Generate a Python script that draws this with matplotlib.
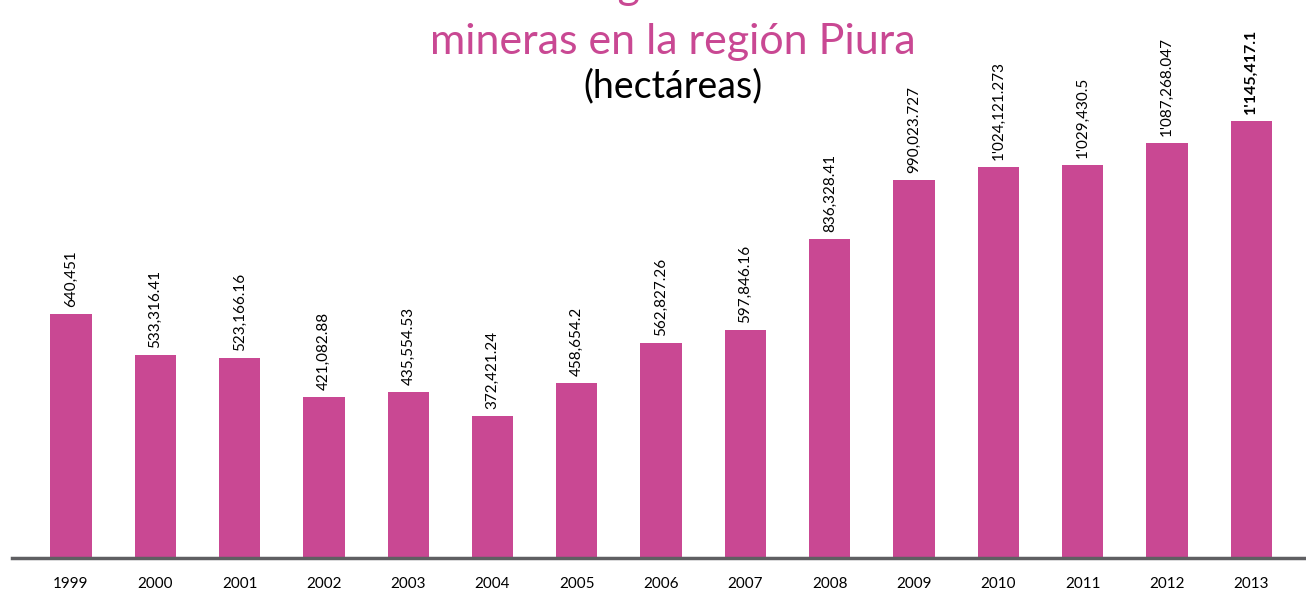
import matplotlib
matplotlib.use("Agg")
import matplotlib.pyplot as plt

years = ["1999", "2000", "2001", "2002", "2003", "2004", "2005", "2006",
         "2007", "2008", "2009", "2010", "2011", "2012", "2013"]
hectares = [640451, 533316.41, 523166.16, 421082.88, 435554.53, 372421.24,
            458654.2, 562827.26, 597846.16, 836328.41, 990023.727,
            1024121.273, 1029430.5, 1087268.047, 1145417.1]
labels = ["640,451", "533,316.41", "523,166.16", "421,082.88", "435,554.53",
          "372,421.24", "458,654.2", "562,827.26", "597,846.16", "836,328.41",
          "990,023.727", "1'024,121.273", "1'029,430.5", "1'087,268.047",
          "1'145,417.1"]

pink = "#c94893"
plt.rcParams['font.family'] = ['Lato', 'DejaVu Sans']

fig = plt.figure(figsize=(13.06, 5.92), dpi=100)
ax = fig.add_axes([12 / 1306, 34 / 592, 1 - 12 / 1306, 558 / 592])

x = list(range(len(years)))
ax.bar(x, hectares, width=0.49, color=pink)
for i, (v, lab) in enumerate(zip(hectares, labels)):
    last = i == len(years) - 1
    ax.annotate(lab, (i, v), xytext=(0, 5), textcoords="offset points",
                rotation=90, ha="center", va="bottom",
                fontsize=11.5 if last else 11,
                fontweight="bold" if last else "normal", color="black")

ax.set_xlim(-0.7, len(years) - 1 + 0.65)
ax.set_ylim(0, 1462600)
ax.set_xticks(x)
ax.set_xticklabels(years, fontsize=11)
ax.tick_params(axis="x", length=0, pad=14)
ax.set_yticks([])
for s in ["top", "right", "left"]:
    ax.spines[s].set_visible(False)
ax.spines["bottom"].set_color("#5f5f62")
ax.spines["bottom"].set_linewidth(2.5)

# first title line is cut off at the top edge in the original
fig.text(0.515, 1 + 1 / 592, "Área total otorgada en concesiones", color=pink,
         fontsize=31, ha="center", va="baseline")
fig.text(0.515, 1 - 54 / 592, "mineras en la región Piura", color=pink,
         fontsize=31, ha="center", va="baseline")
fig.text(0.515, 1 - 97 / 592, "(hectáreas)", color="black",
         fontsize=27, ha="center", va="baseline")

fig.savefig("out.png", dpi=100)
